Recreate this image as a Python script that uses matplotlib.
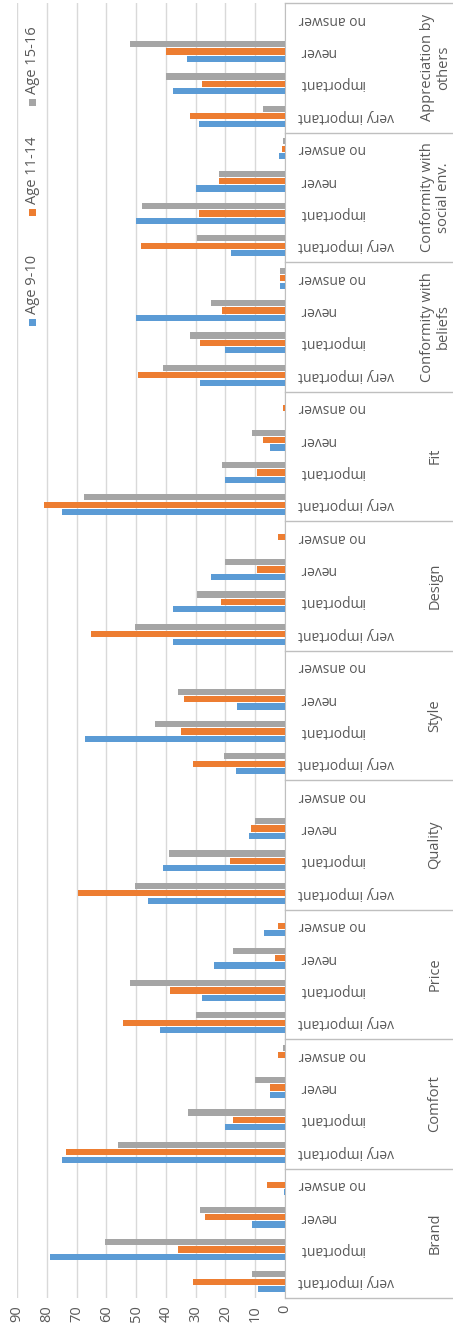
import matplotlib.pyplot as plt
from matplotlib.patches import Rectangle
import numpy as np

plt.rcParams['font.family'] = ['Open Sans', 'DejaVu Sans']

GROUPS = ['Brand', 'Comfort', 'Price', 'Quality', 'Style', 'Design', 'Fit',
          'Conformity with\nbeliefs', 'Conformity with\nsocial env.',
          'Appreciation by\nothers']
ANSWERS = ['very important', 'important', 'never', 'no answer']
SERIES = ['Age 9-10', 'Age 11-14', 'Age 15-16']

# values per group in ANSWERS order
AGE_9_10 = [9, 79, 11, 0.5,
            75, 20, 5, 0,
            42, 28, 24, 7,
            46, 41, 12, 0,
            16.5, 67, 16, 0,
            37.5, 37.5, 25, 0,
            75, 20, 5, 0,
            28.5, 20, 50, 1.7,
            18, 50, 30, 2,
            29, 37.5, 33, 0]
AGE_11_14 = [31, 36, 27, 6,
             73.5, 17.5, 5, 2.5,
             54.5, 38.5, 3.5, 2.5,
             69.5, 18.5, 11.5, 0,
             31, 35, 34, 0,
             65, 21.5, 9.5, 2.5,
             81, 9.5, 7.4, 0.7,
             49.5, 28.5, 21, 1.7,
             48.5, 29, 22, 1,
             32, 28, 40, 0]
AGE_15_16 = [11, 60.5, 28.5, 0,
             56, 32.5, 10, 0.7,
             30, 52, 17.5, 0,
             50.5, 39, 10, 0,
             20.5, 43.5, 36, 0,
             50.5, 29.5, 20, 0,
             67.5, 21, 11, 0,
             41, 32, 25, 1.7,
             29.5, 48, 22, 0.7,
             7.5, 40, 52, 0]
TICKS = list(range(0, 100, 10))

BLUE, ORANGE, GRAY = '#5B9BD5', '#ED7D31', '#A5A5A5'
GRID, LINE, TEXT = '#D9D9D9', '#BFBFBF', '#595959'

W, H = 453, 1331
fig = plt.figure(figsize=(W / 100, H / 100), dpi=100)
x0, x1, y0, y1 = 17, 285, 3, 1298
ax = fig.add_axes([x0 / W, 1 - y1 / H, (x1 - x0) / W, (y1 - y0) / H])

n = len(GROUPS) * len(ANSWERS)
pos = np.arange(n)
for vals, col, k in zip([AGE_9_10, AGE_11_14, AGE_15_16], [BLUE, ORANGE, GRAY], [-1, 0, 1]):
    ax.barh(pos + k * 0.23, vals, height=0.19, color=col, lw=0, zorder=3)

ax.set_xlim(90, 0)
ax.set_ylim(-0.5, n - 0.5)
ax.set_xticks(TICKS)
ax.set_xticklabels([str(t) for t in TICKS])
ax.tick_params(axis='x', length=0, labelrotation=90, colors=TEXT, labelsize=10.5, pad=5)
ax.set_yticks([])
ax.xaxis.grid(True, color=GRID, lw=1)
ax.set_axisbelow(True)
for sp in ['top', 'left', 'bottom']:
    ax.spines[sp].set_visible(False)
ax.spines['right'].set_color(LINE)

# category labels on the right
tr = ax.get_yaxis_transform()
right = (452 - x0) / (x1 - x0)
for g, name in enumerate(GROUPS):
    for a, ans in enumerate(ANSWERS):
        ax.text(1.05, g * 4 + a, ans, transform=tr, rotation=180,
                ha='left', va='center', fontsize=10, color=TEXT)
    ax.text(1.56, g * 4 + 1.5, name, transform=tr, rotation=90,
            ha='center', va='center', fontsize=10.5, color=TEXT,
            multialignment='center', linespacing=1.1)
for b in range(len(GROUPS) + 1):
    ax.plot([1, right], [b * 4 - 0.5] * 2, transform=tr, color=LINE, lw=1, clip_on=False)

# legend, rotated
for name, col, ym in zip(SERIES, [BLUE, ORANGE, GRAY], [322, 212, 102]):
    fig.add_artist(Rectangle(((32 - 3.5) / W, 1 - (ym + 3.5) / H), 7 / W, 7 / H,
                             transform=fig.transFigure, color=col, lw=0))
    fig.text(33 / W, 1 - (ym - 8) / H, name, rotation=90, ha='center', va='bottom',
             fontsize=10.5, color=TEXT)

fig.savefig('out.png', dpi=100, facecolor='white')
